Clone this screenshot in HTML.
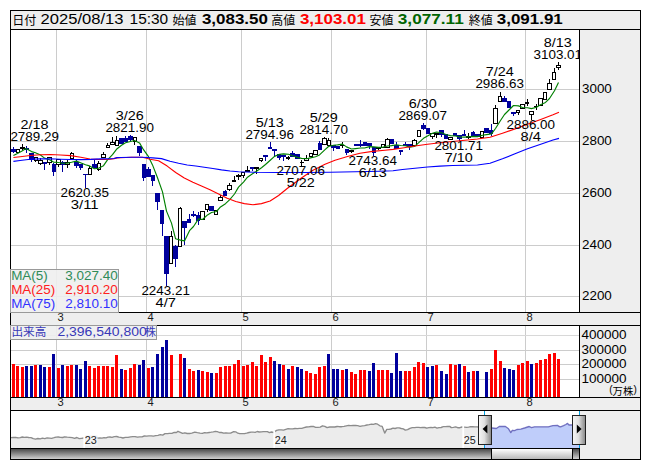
<!DOCTYPE html>
<html><head><meta charset="utf-8"><title>chart</title><style>html,body{margin:0;padding:0;background:#fff}svg{display:block}</style></head><body>
<svg width="653" height="470" viewBox="0 0 653 470" font-family="Liberation Sans, sans-serif">
<rect x="0" y="0" width="653" height="470" fill="#fff"/>
<g shape-rendering="crispEdges">
<rect x="10" y="10" width="631" height="450" fill="#000"/>
<rect x="11" y="11" width="629" height="448" fill="#eeeeee"/>
<rect x="10" y="29" width="631" height="1" fill="#000"/>
<rect x="11" y="30" width="568" height="282" fill="#fff"/>
<rect x="579" y="29" width="1" height="284" fill="#000"/>
<rect x="10" y="312" width="631" height="1" fill="#000"/>
<rect x="10" y="325" width="631" height="1" fill="#000"/>
<rect x="11" y="326" width="568" height="71" fill="#fff"/>
<rect x="579" y="325" width="1" height="73" fill="#000"/>
<rect x="10" y="397" width="631" height="1" fill="#000"/>
<rect x="10" y="410" width="631" height="1" fill="#000"/>
<rect x="11" y="411" width="568" height="37" fill="#fff"/>
<rect x="10" y="448" width="570" height="1" fill="#000"/>
<rect x="56" y="30" width="1" height="282" fill="#cccccc"/>
<rect x="56" y="326" width="1" height="71" fill="#cccccc"/>
<rect x="146" y="30" width="1" height="282" fill="#cccccc"/>
<rect x="146" y="326" width="1" height="71" fill="#cccccc"/>
<rect x="241" y="30" width="1" height="282" fill="#cccccc"/>
<rect x="241" y="326" width="1" height="71" fill="#cccccc"/>
<rect x="331" y="30" width="1" height="282" fill="#cccccc"/>
<rect x="331" y="326" width="1" height="71" fill="#cccccc"/>
<rect x="426" y="30" width="1" height="282" fill="#cccccc"/>
<rect x="426" y="326" width="1" height="71" fill="#cccccc"/>
<rect x="525" y="30" width="1" height="282" fill="#cccccc"/>
<rect x="525" y="326" width="1" height="71" fill="#cccccc"/>
<rect x="11" y="89" width="568" height="1" fill="#cccccc"/>
<rect x="11" y="141" width="568" height="1" fill="#cccccc"/>
<rect x="11" y="193" width="568" height="1" fill="#cccccc"/>
<rect x="11" y="245" width="568" height="1" fill="#cccccc"/>
<rect x="11" y="296" width="568" height="1" fill="#cccccc"/>
<rect x="11" y="335" width="568" height="1" fill="#d8d8d8"/>
<rect x="11" y="350" width="568" height="1" fill="#cccccc"/>
<rect x="11" y="364" width="568" height="1" fill="#cccccc"/>
<rect x="11" y="379" width="568" height="1" fill="#cccccc"/>
</g>
<text x="582" y="93" font-size="12" fill="#000" textLength="29.8" lengthAdjust="spacingAndGlyphs">3000</text>
<text x="582" y="145" font-size="12" fill="#000" textLength="29.8" lengthAdjust="spacingAndGlyphs">2800</text>
<text x="582" y="197" font-size="12" fill="#000" textLength="29.8" lengthAdjust="spacingAndGlyphs">2600</text>
<text x="582" y="249" font-size="12" fill="#000" textLength="29.8" lengthAdjust="spacingAndGlyphs">2400</text>
<text x="582" y="300" font-size="12" fill="#000" textLength="29.8" lengthAdjust="spacingAndGlyphs">2200</text>
<text x="581.5" y="339" font-size="12" fill="#000" textLength="45" lengthAdjust="spacingAndGlyphs">400000</text>
<text x="581.5" y="353.5" font-size="12" fill="#000" textLength="45" lengthAdjust="spacingAndGlyphs">300000</text>
<text x="581.5" y="368" font-size="12" fill="#000" textLength="45" lengthAdjust="spacingAndGlyphs">200000</text>
<text x="581.5" y="382.5" font-size="12" fill="#000" textLength="45" lengthAdjust="spacingAndGlyphs">100000</text>
<text x="609.2" y="393.3" font-size="10" fill="#000">(</text>
<text x="612.6" y="394.6" font-size="10.5" fill="#000" textLength="20.7" lengthAdjust="spacingAndGlyphs" style="font-family:'Liberation Sans','Noto Sans CJK JP',sans-serif">万株</text>
<text x="633.6" y="393.3" font-size="10" fill="#000">)</text>
<text x="57.5" y="321.4" font-size="10" fill="#1a1a1a" textLength="6.2" lengthAdjust="spacingAndGlyphs">3</text>
<text x="57.5" y="406.4" font-size="10" fill="#1a1a1a" textLength="6.2" lengthAdjust="spacingAndGlyphs">3</text>
<text x="147.5" y="321.4" font-size="10" fill="#1a1a1a" textLength="6.2" lengthAdjust="spacingAndGlyphs">4</text>
<text x="147.5" y="406.4" font-size="10" fill="#1a1a1a" textLength="6.2" lengthAdjust="spacingAndGlyphs">4</text>
<text x="242.5" y="321.4" font-size="10" fill="#1a1a1a" textLength="6.2" lengthAdjust="spacingAndGlyphs">5</text>
<text x="242.5" y="406.4" font-size="10" fill="#1a1a1a" textLength="6.2" lengthAdjust="spacingAndGlyphs">5</text>
<text x="332.5" y="321.4" font-size="10" fill="#1a1a1a" textLength="6.2" lengthAdjust="spacingAndGlyphs">6</text>
<text x="332.5" y="406.4" font-size="10" fill="#1a1a1a" textLength="6.2" lengthAdjust="spacingAndGlyphs">6</text>
<text x="427.5" y="321.4" font-size="10" fill="#1a1a1a" textLength="6.2" lengthAdjust="spacingAndGlyphs">7</text>
<text x="427.5" y="406.4" font-size="10" fill="#1a1a1a" textLength="6.2" lengthAdjust="spacingAndGlyphs">7</text>
<text x="526.5" y="321.4" font-size="10" fill="#1a1a1a" textLength="6.2" lengthAdjust="spacingAndGlyphs">8</text>
<text x="526.5" y="406.4" font-size="10" fill="#1a1a1a" textLength="6.2" lengthAdjust="spacingAndGlyphs">8</text>
<g shape-rendering="crispEdges">
<rect x="12" y="364" width="3" height="33" fill="#ff0000"/>
<rect x="16" y="366" width="3" height="31" fill="#ff0000"/>
<rect x="21" y="367" width="3" height="30" fill="#ff0000"/>
<rect x="25" y="366" width="3" height="31" fill="#00009c"/>
<rect x="30" y="366" width="3" height="31" fill="#00009c"/>
<rect x="34" y="365" width="3" height="32" fill="#ff0000"/>
<rect x="39" y="365" width="3" height="32" fill="#00009c"/>
<rect x="43" y="367" width="3" height="30" fill="#00009c"/>
<rect x="48" y="367" width="3" height="30" fill="#ff0000"/>
<rect x="52" y="354" width="3" height="43" fill="#00009c"/>
<rect x="57" y="368" width="3" height="29" fill="#ff0000"/>
<rect x="61" y="365" width="3" height="32" fill="#00009c"/>
<rect x="66" y="366" width="3" height="31" fill="#ff0000"/>
<rect x="70" y="365" width="3" height="32" fill="#ff0000"/>
<rect x="75" y="365" width="3" height="32" fill="#00009c"/>
<rect x="79" y="369" width="3" height="28" fill="#00009c"/>
<rect x="84" y="361" width="3" height="36" fill="#00009c"/>
<rect x="88" y="366" width="3" height="31" fill="#ff0000"/>
<rect x="93" y="368" width="3" height="29" fill="#ff0000"/>
<rect x="97" y="366" width="3" height="31" fill="#ff0000"/>
<rect x="102" y="366" width="3" height="31" fill="#ff0000"/>
<rect x="106" y="366" width="3" height="31" fill="#ff0000"/>
<rect x="111" y="367" width="3" height="30" fill="#ff0000"/>
<rect x="115" y="355" width="3" height="42" fill="#ff0000"/>
<rect x="120" y="369" width="3" height="28" fill="#00009c"/>
<rect x="124" y="370" width="3" height="27" fill="#ff0000"/>
<rect x="129" y="368" width="3" height="29" fill="#ff0000"/>
<rect x="133" y="364" width="3" height="33" fill="#ff0000"/>
<rect x="138" y="365" width="3" height="32" fill="#00009c"/>
<rect x="142" y="360" width="3" height="37" fill="#00009c"/>
<rect x="147" y="368" width="3" height="29" fill="#ff0000"/>
<rect x="151" y="367" width="3" height="30" fill="#00009c"/>
<rect x="156" y="354" width="3" height="43" fill="#00009c"/>
<rect x="161" y="347" width="3" height="50" fill="#00009c"/>
<rect x="165" y="340" width="3" height="57" fill="#00009c"/>
<rect x="170" y="355" width="3" height="42" fill="#ff0000"/>
<rect x="179" y="354" width="3" height="43" fill="#ff0000"/>
<rect x="183" y="358" width="3" height="39" fill="#00009c"/>
<rect x="188" y="369" width="3" height="28" fill="#ff0000"/>
<rect x="192" y="371" width="3" height="26" fill="#ff0000"/>
<rect x="197" y="370" width="3" height="27" fill="#00009c"/>
<rect x="201" y="371" width="3" height="26" fill="#ff0000"/>
<rect x="206" y="372" width="3" height="25" fill="#ff0000"/>
<rect x="210" y="373" width="3" height="24" fill="#00009c"/>
<rect x="215" y="373" width="3" height="24" fill="#ff0000"/>
<rect x="219" y="367" width="3" height="30" fill="#ff0000"/>
<rect x="224" y="366" width="3" height="31" fill="#ff0000"/>
<rect x="228" y="366" width="3" height="31" fill="#ff0000"/>
<rect x="233" y="364" width="3" height="33" fill="#ff0000"/>
<rect x="237" y="360" width="3" height="37" fill="#ff0000"/>
<rect x="242" y="366" width="3" height="31" fill="#ff0000"/>
<rect x="246" y="365" width="3" height="32" fill="#ff0000"/>
<rect x="251" y="362" width="3" height="35" fill="#ff0000"/>
<rect x="255" y="366" width="3" height="31" fill="#ff0000"/>
<rect x="260" y="355" width="3" height="42" fill="#ff0000"/>
<rect x="264" y="362" width="3" height="35" fill="#ff0000"/>
<rect x="269" y="357" width="3" height="40" fill="#ff0000"/>
<rect x="273" y="361" width="3" height="36" fill="#00009c"/>
<rect x="278" y="364" width="3" height="33" fill="#00009c"/>
<rect x="282" y="365" width="3" height="32" fill="#ff0000"/>
<rect x="287" y="369" width="3" height="28" fill="#00009c"/>
<rect x="291" y="366" width="3" height="31" fill="#ff0000"/>
<rect x="296" y="367" width="3" height="30" fill="#00009c"/>
<rect x="300" y="369" width="3" height="28" fill="#00009c"/>
<rect x="305" y="371" width="3" height="26" fill="#ff0000"/>
<rect x="309" y="373" width="3" height="24" fill="#ff0000"/>
<rect x="314" y="374" width="3" height="23" fill="#ff0000"/>
<rect x="318" y="367" width="3" height="30" fill="#ff0000"/>
<rect x="323" y="366" width="3" height="31" fill="#ff0000"/>
<rect x="327" y="354" width="3" height="43" fill="#00009c"/>
<rect x="332" y="369" width="3" height="28" fill="#00009c"/>
<rect x="336" y="369" width="3" height="28" fill="#00009c"/>
<rect x="341" y="370" width="3" height="27" fill="#ff0000"/>
<rect x="345" y="369" width="3" height="28" fill="#00009c"/>
<rect x="350" y="372" width="3" height="25" fill="#ff0000"/>
<rect x="354" y="374" width="3" height="23" fill="#ff0000"/>
<rect x="359" y="370" width="3" height="27" fill="#ff0000"/>
<rect x="363" y="370" width="3" height="27" fill="#ff0000"/>
<rect x="368" y="371" width="3" height="26" fill="#00009c"/>
<rect x="372" y="363" width="3" height="34" fill="#00009c"/>
<rect x="377" y="370" width="3" height="27" fill="#ff0000"/>
<rect x="381" y="370" width="3" height="27" fill="#ff0000"/>
<rect x="386" y="370" width="3" height="27" fill="#ff0000"/>
<rect x="390" y="373" width="3" height="24" fill="#00009c"/>
<rect x="395" y="353" width="3" height="44" fill="#00009c"/>
<rect x="399" y="371" width="3" height="26" fill="#00009c"/>
<rect x="404" y="371" width="3" height="26" fill="#ff0000"/>
<rect x="408" y="371" width="3" height="26" fill="#ff0000"/>
<rect x="413" y="367" width="3" height="30" fill="#ff0000"/>
<rect x="417" y="362" width="3" height="35" fill="#ff0000"/>
<rect x="422" y="363" width="3" height="34" fill="#ff0000"/>
<rect x="426" y="367" width="3" height="30" fill="#00009c"/>
<rect x="431" y="366" width="3" height="31" fill="#00009c"/>
<rect x="435" y="365" width="3" height="32" fill="#ff0000"/>
<rect x="440" y="371" width="3" height="26" fill="#00009c"/>
<rect x="445" y="374" width="3" height="23" fill="#00009c"/>
<rect x="449" y="364" width="3" height="33" fill="#ff0000"/>
<rect x="454" y="365" width="3" height="32" fill="#ff0000"/>
<rect x="458" y="364" width="3" height="33" fill="#00009c"/>
<rect x="463" y="366" width="3" height="31" fill="#ff0000"/>
<rect x="467" y="372" width="3" height="25" fill="#00009c"/>
<rect x="472" y="371" width="3" height="26" fill="#ff0000"/>
<rect x="476" y="371" width="3" height="26" fill="#00009c"/>
<rect x="485" y="372" width="3" height="25" fill="#00009c"/>
<rect x="490" y="369" width="3" height="28" fill="#ff0000"/>
<rect x="494" y="350" width="3" height="47" fill="#ff0000"/>
<rect x="499" y="361" width="3" height="36" fill="#ff0000"/>
<rect x="503" y="368" width="3" height="29" fill="#00009c"/>
<rect x="508" y="369" width="3" height="28" fill="#00009c"/>
<rect x="512" y="370" width="3" height="27" fill="#00009c"/>
<rect x="517" y="365" width="3" height="32" fill="#ff0000"/>
<rect x="521" y="363" width="3" height="34" fill="#ff0000"/>
<rect x="526" y="361" width="3" height="36" fill="#ff0000"/>
<rect x="530" y="364" width="3" height="33" fill="#00009c"/>
<rect x="535" y="363" width="3" height="34" fill="#ff0000"/>
<rect x="539" y="360" width="3" height="37" fill="#ff0000"/>
<rect x="544" y="359" width="3" height="38" fill="#ff0000"/>
<rect x="548" y="354" width="3" height="43" fill="#ff0000"/>
<rect x="553" y="353" width="3" height="44" fill="#ff0000"/>
<rect x="557" y="359" width="3" height="38" fill="#ff0000"/>
<rect x="13" y="147" width="1" height="6" fill="#00009c"/>
<rect x="11" y="149" width="5" height="3" fill="#00009c"/>
<rect x="17" y="149" width="1" height="4" fill="#000"/>
<rect x="16" y="149" width="4" height="4" fill="#000"/>
<rect x="17" y="150" width="2" height="2" fill="#fff"/>
<rect x="22" y="144" width="1" height="6" fill="#000"/>
<rect x="20" y="147" width="5" height="2" fill="#000"/>
<rect x="26" y="146" width="1" height="7" fill="#00009c"/>
<rect x="25" y="148" width="4" height="2" fill="#00009c"/>
<rect x="31" y="153" width="1" height="9" fill="#00009c"/>
<rect x="29" y="153" width="5" height="7" fill="#00009c"/>
<rect x="35" y="157" width="1" height="5" fill="#000"/>
<rect x="34" y="157" width="4" height="4" fill="#000"/>
<rect x="35" y="158" width="2" height="2" fill="#fff"/>
<rect x="40" y="158" width="1" height="7" fill="#000"/>
<rect x="38" y="160" width="5" height="4" fill="#000"/>
<rect x="39" y="161" width="3" height="2" fill="#fff"/>
<rect x="44" y="162" width="1" height="8" fill="#00009c"/>
<rect x="43" y="162" width="4" height="2" fill="#00009c"/>
<rect x="49" y="157" width="1" height="8" fill="#000"/>
<rect x="47" y="157" width="5" height="6" fill="#000"/>
<rect x="48" y="158" width="3" height="4" fill="#fff"/>
<rect x="53" y="163" width="1" height="13" fill="#00009c"/>
<rect x="52" y="164" width="4" height="8" fill="#00009c"/>
<rect x="58" y="159" width="1" height="8" fill="#000"/>
<rect x="56" y="159" width="5" height="6" fill="#000"/>
<rect x="57" y="160" width="3" height="4" fill="#fff"/>
<rect x="62" y="161" width="1" height="11" fill="#00009c"/>
<rect x="61" y="162" width="4" height="3" fill="#00009c"/>
<rect x="67" y="160" width="1" height="8" fill="#000"/>
<rect x="65" y="162" width="5" height="3" fill="#000"/>
<rect x="66" y="163" width="3" height="1" fill="#fff"/>
<rect x="71" y="152" width="1" height="7" fill="#000"/>
<rect x="70" y="153" width="4" height="6" fill="#000"/>
<rect x="71" y="154" width="2" height="4" fill="#fff"/>
<rect x="76" y="160" width="1" height="8" fill="#00009c"/>
<rect x="74" y="162" width="5" height="4" fill="#00009c"/>
<rect x="80" y="164" width="1" height="6" fill="#00009c"/>
<rect x="79" y="164" width="4" height="4" fill="#00009c"/>
<rect x="85" y="174" width="1" height="14" fill="#00009c"/>
<rect x="83" y="174" width="5" height="1" fill="#00009c"/>
<rect x="89" y="166" width="1" height="9" fill="#000"/>
<rect x="88" y="168" width="4" height="7" fill="#000"/>
<rect x="89" y="169" width="2" height="5" fill="#fff"/>
<rect x="94" y="160" width="1" height="8" fill="#00009c"/>
<rect x="92" y="164" width="5" height="4" fill="#00009c"/>
<rect x="98" y="161" width="1" height="10" fill="#000"/>
<rect x="97" y="163" width="4" height="7" fill="#000"/>
<rect x="98" y="164" width="2" height="5" fill="#fff"/>
<rect x="103" y="152" width="1" height="6" fill="#000"/>
<rect x="101" y="154" width="5" height="4" fill="#000"/>
<rect x="102" y="155" width="3" height="2" fill="#fff"/>
<rect x="107" y="143" width="1" height="5" fill="#000"/>
<rect x="106" y="145" width="4" height="3" fill="#000"/>
<rect x="107" y="146" width="2" height="1" fill="#fff"/>
<rect x="112" y="137" width="1" height="8" fill="#000"/>
<rect x="110" y="142" width="5" height="3" fill="#000"/>
<rect x="111" y="143" width="3" height="1" fill="#fff"/>
<rect x="116" y="136" width="1" height="10" fill="#000"/>
<rect x="115" y="140" width="4" height="6" fill="#000"/>
<rect x="116" y="141" width="2" height="4" fill="#fff"/>
<rect x="121" y="138" width="1" height="6" fill="#00009c"/>
<rect x="119" y="138" width="5" height="6" fill="#00009c"/>
<rect x="125" y="136" width="1" height="6" fill="#00009c"/>
<rect x="124" y="138" width="4" height="4" fill="#00009c"/>
<rect x="130" y="135" width="1" height="7" fill="#00009c"/>
<rect x="128" y="136" width="5" height="4" fill="#00009c"/>
<rect x="134" y="137" width="1" height="8" fill="#000"/>
<rect x="133" y="137" width="4" height="5" fill="#000"/>
<rect x="134" y="138" width="2" height="3" fill="#fff"/>
<rect x="139" y="146" width="1" height="10" fill="#00009c"/>
<rect x="137" y="146" width="5" height="7" fill="#00009c"/>
<rect x="143" y="164" width="1" height="17" fill="#00009c"/>
<rect x="142" y="164" width="4" height="14" fill="#00009c"/>
<rect x="148" y="167" width="1" height="10" fill="#00009c"/>
<rect x="146" y="169" width="5" height="8" fill="#00009c"/>
<rect x="152" y="175" width="1" height="11" fill="#00009c"/>
<rect x="151" y="175" width="4" height="6" fill="#00009c"/>
<rect x="157" y="193" width="1" height="17" fill="#00009c"/>
<rect x="155" y="193" width="5" height="9" fill="#00009c"/>
<rect x="162" y="210" width="1" height="26" fill="#00009c"/>
<rect x="160" y="210" width="4" height="14" fill="#00009c"/>
<rect x="166" y="236" width="1" height="50" fill="#00009c"/>
<rect x="164" y="236" width="5" height="38" fill="#00009c"/>
<rect x="171" y="231" width="1" height="33" fill="#000"/>
<rect x="169" y="236" width="4" height="28" fill="#000"/>
<rect x="170" y="237" width="2" height="26" fill="#fff"/>
<rect x="175" y="245" width="1" height="22" fill="#00009c"/>
<rect x="173" y="246" width="5" height="13" fill="#00009c"/>
<rect x="180" y="207" width="1" height="40" fill="#000"/>
<rect x="178" y="208" width="4" height="39" fill="#000"/>
<rect x="179" y="209" width="2" height="37" fill="#fff"/>
<rect x="184" y="221" width="1" height="24" fill="#00009c"/>
<rect x="182" y="221" width="5" height="7" fill="#00009c"/>
<rect x="189" y="214" width="1" height="9" fill="#00009c"/>
<rect x="187" y="219" width="4" height="4" fill="#00009c"/>
<rect x="193" y="211" width="1" height="6" fill="#00009c"/>
<rect x="191" y="214" width="5" height="2" fill="#00009c"/>
<rect x="198" y="212" width="1" height="13" fill="#00009c"/>
<rect x="196" y="215" width="4" height="6" fill="#00009c"/>
<rect x="202" y="211" width="1" height="9" fill="#000"/>
<rect x="200" y="211" width="5" height="9" fill="#000"/>
<rect x="201" y="212" width="3" height="7" fill="#fff"/>
<rect x="207" y="204" width="1" height="8" fill="#000"/>
<rect x="205" y="204" width="4" height="6" fill="#000"/>
<rect x="206" y="205" width="2" height="4" fill="#fff"/>
<rect x="211" y="206" width="1" height="5" fill="#00009c"/>
<rect x="209" y="206" width="5" height="5" fill="#00009c"/>
<rect x="216" y="210" width="1" height="5" fill="#000"/>
<rect x="214" y="210" width="4" height="5" fill="#000"/>
<rect x="215" y="211" width="2" height="3" fill="#fff"/>
<rect x="220" y="195" width="1" height="6" fill="#000"/>
<rect x="218" y="197" width="5" height="4" fill="#000"/>
<rect x="219" y="198" width="3" height="2" fill="#fff"/>
<rect x="225" y="190" width="1" height="6" fill="#00009c"/>
<rect x="223" y="191" width="4" height="5" fill="#00009c"/>
<rect x="229" y="183" width="1" height="8" fill="#000"/>
<rect x="227" y="185" width="5" height="5" fill="#000"/>
<rect x="228" y="186" width="3" height="3" fill="#fff"/>
<rect x="234" y="176" width="1" height="6" fill="#000"/>
<rect x="232" y="180" width="4" height="2" fill="#000"/>
<rect x="238" y="174" width="1" height="6" fill="#000"/>
<rect x="236" y="175" width="5" height="2" fill="#000"/>
<rect x="243" y="172" width="1" height="6" fill="#000"/>
<rect x="241" y="172" width="4" height="4" fill="#000"/>
<rect x="242" y="173" width="2" height="2" fill="#fff"/>
<rect x="247" y="166" width="1" height="6" fill="#000"/>
<rect x="245" y="170" width="5" height="2" fill="#000"/>
<rect x="252" y="167" width="1" height="4" fill="#00009c"/>
<rect x="250" y="167" width="4" height="2" fill="#00009c"/>
<rect x="256" y="167" width="1" height="7" fill="#000"/>
<rect x="254" y="167" width="5" height="2" fill="#000"/>
<rect x="261" y="158" width="1" height="4" fill="#000"/>
<rect x="259" y="158" width="4" height="3" fill="#000"/>
<rect x="260" y="159" width="2" height="1" fill="#fff"/>
<rect x="265" y="155" width="1" height="6" fill="#00009c"/>
<rect x="263" y="155" width="5" height="2" fill="#00009c"/>
<rect x="270" y="142" width="1" height="7" fill="#00009c"/>
<rect x="268" y="147" width="4" height="2" fill="#00009c"/>
<rect x="274" y="149" width="1" height="7" fill="#00009c"/>
<rect x="272" y="149" width="5" height="2" fill="#00009c"/>
<rect x="279" y="154" width="1" height="6" fill="#00009c"/>
<rect x="277" y="154" width="4" height="4" fill="#00009c"/>
<rect x="283" y="155" width="1" height="6" fill="#00009c"/>
<rect x="281" y="155" width="5" height="2" fill="#00009c"/>
<rect x="288" y="156" width="1" height="4" fill="#000"/>
<rect x="286" y="157" width="4" height="2" fill="#000"/>
<rect x="292" y="151" width="1" height="6" fill="#00009c"/>
<rect x="290" y="153" width="5" height="4" fill="#00009c"/>
<rect x="297" y="154" width="1" height="5" fill="#00009c"/>
<rect x="295" y="154" width="5" height="5" fill="#00009c"/>
<rect x="301" y="160" width="1" height="6" fill="#000"/>
<rect x="300" y="162" width="4" height="1" fill="#000"/>
<rect x="306" y="155" width="1" height="6" fill="#000"/>
<rect x="304" y="158" width="5" height="3" fill="#000"/>
<rect x="305" y="159" width="3" height="1" fill="#fff"/>
<rect x="310" y="153" width="1" height="4" fill="#000"/>
<rect x="309" y="153" width="4" height="4" fill="#000"/>
<rect x="310" y="154" width="2" height="2" fill="#fff"/>
<rect x="315" y="150" width="1" height="5" fill="#000"/>
<rect x="313" y="150" width="5" height="5" fill="#000"/>
<rect x="314" y="151" width="3" height="3" fill="#fff"/>
<rect x="319" y="141" width="1" height="9" fill="#00009c"/>
<rect x="318" y="143" width="4" height="7" fill="#00009c"/>
<rect x="324" y="137" width="1" height="8" fill="#000"/>
<rect x="322" y="138" width="5" height="7" fill="#000"/>
<rect x="323" y="139" width="3" height="5" fill="#fff"/>
<rect x="328" y="138" width="1" height="8" fill="#000"/>
<rect x="327" y="140" width="4" height="6" fill="#000"/>
<rect x="328" y="141" width="2" height="4" fill="#fff"/>
<rect x="333" y="145" width="1" height="6" fill="#00009c"/>
<rect x="331" y="145" width="5" height="3" fill="#00009c"/>
<rect x="337" y="146" width="1" height="3" fill="#00009c"/>
<rect x="336" y="146" width="4" height="3" fill="#00009c"/>
<rect x="342" y="142" width="1" height="6" fill="#000"/>
<rect x="340" y="145" width="5" height="1" fill="#000"/>
<rect x="346" y="149" width="1" height="6" fill="#00009c"/>
<rect x="345" y="149" width="4" height="4" fill="#00009c"/>
<rect x="351" y="150" width="1" height="3" fill="#000"/>
<rect x="349" y="150" width="5" height="2" fill="#000"/>
<rect x="355" y="144" width="1" height="2" fill="#00009c"/>
<rect x="354" y="144" width="4" height="2" fill="#00009c"/>
<rect x="360" y="140" width="1" height="7" fill="#00009c"/>
<rect x="358" y="144" width="5" height="2" fill="#00009c"/>
<rect x="364" y="142" width="1" height="4" fill="#00009c"/>
<rect x="363" y="142" width="4" height="4" fill="#00009c"/>
<rect x="369" y="143" width="1" height="6" fill="#00009c"/>
<rect x="367" y="143" width="5" height="3" fill="#00009c"/>
<rect x="373" y="147" width="1" height="9" fill="#00009c"/>
<rect x="372" y="147" width="4" height="6" fill="#00009c"/>
<rect x="378" y="147" width="1" height="3" fill="#000"/>
<rect x="376" y="147" width="5" height="2" fill="#000"/>
<rect x="382" y="144" width="1" height="4" fill="#000"/>
<rect x="381" y="144" width="4" height="4" fill="#000"/>
<rect x="382" y="145" width="2" height="2" fill="#fff"/>
<rect x="387" y="138" width="1" height="10" fill="#000"/>
<rect x="385" y="139" width="5" height="9" fill="#000"/>
<rect x="386" y="140" width="3" height="7" fill="#fff"/>
<rect x="391" y="139" width="1" height="5" fill="#00009c"/>
<rect x="390" y="139" width="4" height="5" fill="#00009c"/>
<rect x="396" y="142" width="1" height="7" fill="#00009c"/>
<rect x="394" y="145" width="5" height="4" fill="#00009c"/>
<rect x="400" y="150" width="1" height="5" fill="#00009c"/>
<rect x="399" y="150" width="4" height="2" fill="#00009c"/>
<rect x="405" y="142" width="1" height="4" fill="#00009c"/>
<rect x="403" y="144" width="5" height="2" fill="#00009c"/>
<rect x="409" y="144" width="1" height="6" fill="#00009c"/>
<rect x="408" y="144" width="4" height="3" fill="#00009c"/>
<rect x="414" y="139" width="1" height="7" fill="#000"/>
<rect x="412" y="140" width="5" height="6" fill="#000"/>
<rect x="413" y="141" width="3" height="4" fill="#fff"/>
<rect x="418" y="130" width="1" height="7" fill="#000"/>
<rect x="417" y="130" width="4" height="7" fill="#000"/>
<rect x="418" y="131" width="2" height="5" fill="#fff"/>
<rect x="423" y="123" width="1" height="7" fill="#00009c"/>
<rect x="421" y="125" width="5" height="4" fill="#00009c"/>
<rect x="427" y="128" width="1" height="6" fill="#00009c"/>
<rect x="426" y="128" width="4" height="6" fill="#00009c"/>
<rect x="432" y="133" width="1" height="6" fill="#000"/>
<rect x="430" y="133" width="5" height="4" fill="#000"/>
<rect x="431" y="134" width="3" height="2" fill="#fff"/>
<rect x="436" y="133" width="1" height="5" fill="#000"/>
<rect x="435" y="133" width="4" height="2" fill="#000"/>
<rect x="441" y="130" width="1" height="7" fill="#00009c"/>
<rect x="439" y="130" width="5" height="5" fill="#00009c"/>
<rect x="446" y="134" width="1" height="5" fill="#00009c"/>
<rect x="444" y="134" width="4" height="5" fill="#00009c"/>
<rect x="450" y="137" width="1" height="3" fill="#000"/>
<rect x="448" y="137" width="5" height="3" fill="#000"/>
<rect x="449" y="138" width="3" height="1" fill="#fff"/>
<rect x="455" y="133" width="1" height="3" fill="#00009c"/>
<rect x="453" y="133" width="4" height="3" fill="#00009c"/>
<rect x="459" y="135" width="1" height="6" fill="#00009c"/>
<rect x="457" y="135" width="5" height="4" fill="#00009c"/>
<rect x="464" y="130" width="1" height="6" fill="#00009c"/>
<rect x="462" y="134" width="4" height="2" fill="#00009c"/>
<rect x="468" y="133" width="1" height="6" fill="#000"/>
<rect x="466" y="136" width="5" height="2" fill="#000"/>
<rect x="473" y="131" width="1" height="5" fill="#00009c"/>
<rect x="471" y="132" width="4" height="4" fill="#00009c"/>
<rect x="477" y="134" width="1" height="3" fill="#00009c"/>
<rect x="475" y="134" width="5" height="3" fill="#00009c"/>
<rect x="482" y="131" width="1" height="7" fill="#000"/>
<rect x="480" y="131" width="4" height="7" fill="#000"/>
<rect x="481" y="132" width="2" height="5" fill="#fff"/>
<rect x="486" y="128" width="1" height="5" fill="#00009c"/>
<rect x="484" y="128" width="5" height="5" fill="#00009c"/>
<rect x="491" y="124" width="1" height="12" fill="#00009c"/>
<rect x="489" y="130" width="4" height="4" fill="#00009c"/>
<rect x="495" y="105" width="1" height="19" fill="#000"/>
<rect x="493" y="108" width="5" height="16" fill="#000"/>
<rect x="494" y="109" width="3" height="14" fill="#fff"/>
<rect x="500" y="92" width="1" height="10" fill="#000"/>
<rect x="498" y="96" width="4" height="6" fill="#000"/>
<rect x="499" y="97" width="2" height="4" fill="#fff"/>
<rect x="504" y="96" width="1" height="6" fill="#00009c"/>
<rect x="502" y="98" width="5" height="4" fill="#00009c"/>
<rect x="509" y="101" width="1" height="7" fill="#00009c"/>
<rect x="507" y="101" width="4" height="7" fill="#00009c"/>
<rect x="513" y="112" width="1" height="4" fill="#00009c"/>
<rect x="511" y="112" width="5" height="2" fill="#00009c"/>
<rect x="518" y="110" width="1" height="5" fill="#000"/>
<rect x="516" y="110" width="4" height="3" fill="#000"/>
<rect x="517" y="111" width="2" height="1" fill="#fff"/>
<rect x="522" y="104" width="1" height="5" fill="#000"/>
<rect x="520" y="104" width="5" height="5" fill="#000"/>
<rect x="521" y="105" width="3" height="3" fill="#fff"/>
<rect x="527" y="99" width="1" height="7" fill="#000"/>
<rect x="525" y="102" width="4" height="2" fill="#000"/>
<rect x="531" y="111" width="1" height="9" fill="#000"/>
<rect x="529" y="111" width="5" height="4" fill="#000"/>
<rect x="530" y="112" width="3" height="2" fill="#fff"/>
<rect x="536" y="104" width="1" height="6" fill="#000"/>
<rect x="534" y="106" width="4" height="1" fill="#000"/>
<rect x="540" y="98" width="1" height="8" fill="#000"/>
<rect x="538" y="98" width="5" height="8" fill="#000"/>
<rect x="539" y="99" width="3" height="6" fill="#fff"/>
<rect x="545" y="92" width="1" height="8" fill="#000"/>
<rect x="543" y="92" width="4" height="8" fill="#000"/>
<rect x="544" y="93" width="2" height="6" fill="#fff"/>
<rect x="549" y="79" width="1" height="11" fill="#000"/>
<rect x="547" y="83" width="5" height="7" fill="#000"/>
<rect x="548" y="84" width="3" height="5" fill="#fff"/>
<rect x="554" y="68" width="1" height="12" fill="#000"/>
<rect x="552" y="72" width="4" height="8" fill="#000"/>
<rect x="553" y="73" width="2" height="6" fill="#fff"/>
<rect x="558" y="62" width="1" height="8" fill="#000"/>
<rect x="556" y="65" width="5" height="3" fill="#000"/>
<rect x="557" y="66" width="3" height="1" fill="#fff"/>
</g>
<polyline fill="none" stroke="#008000" stroke-width="1.15" stroke-linejoin="round" points="13.4,155.6 17.5,153.5 22.0,151.0 26.0,148.6 31.5,151.6 35.5,152.8 40.5,155.0 44.5,158.1 49.5,159.7 53.5,162.1 58.5,162.5 62.5,163.3 67.5,163.1 71.5,162.3 76.5,161.1 80.5,162.7 85.5,164.7 89.5,165.9 94.5,168.7 98.5,168.3 103.5,165.7 107.5,159.9 112.5,154.7 116.5,149.3 121.5,145.3 125.5,142.7 130.5,141.5 134.5,140.5 139.5,142.9 143.5,149.7 148.5,156.7 152.5,164.9 157.5,177.7 162.5,191.9 166.5,211.1 171.5,223.1 175.5,238.7 180.5,240.1 184.5,240.9 189.5,230.7 193.5,226.5 198.5,218.9 202.5,219.5 207.5,214.9 211.5,212.5 216.5,211.5 220.5,206.9 225.5,203.7 229.5,199.9 234.5,194.0 238.5,187.1 243.5,182.1 247.5,177.2 252.5,173.8 256.5,171.2 261.5,167.7 265.5,164.5 270.5,160.0 274.5,156.4 279.5,154.3 283.5,153.9 288.5,154.2 292.5,155.8 297.5,157.4 301.5,158.4 306.5,158.8 310.5,157.9 315.5,156.7 319.5,154.9 324.5,150.1 328.5,146.5 333.5,145.3 337.5,144.9 342.5,144.1 346.5,146.9 351.5,149.0 355.5,148.6 360.5,148.0 364.5,148.0 369.5,146.6 373.5,146.9 378.5,147.4 382.5,147.2 387.5,146.0 391.5,145.6 396.5,144.8 400.5,145.5 405.5,145.7 409.5,147.1 414.5,146.5 418.5,142.9 423.5,138.3 427.5,135.9 432.5,133.3 436.5,132.0 441.5,132.8 446.5,134.8 450.5,135.6 455.5,136.0 459.5,136.9 464.5,137.1 468.5,136.8 473.5,136.4 477.5,136.6 482.5,135.2 486.5,134.6 491.5,133.9 495.5,128.5 500.5,120.5 504.5,114.5 509.5,109.5 513.5,105.5 518.5,105.9 522.5,107.5 527.5,107.8 531.5,108.6 536.5,107.2 540.5,104.8 545.5,102.4 549.5,98.5 554.5,90.7 558.5,82.5"/>
<polyline fill="none" stroke="#ff0000" stroke-width="1.15" stroke-linejoin="round" points="13.4,157.5 20.1,156.7 30.2,155.5 40.3,154.8 50.4,154.5 60.5,155.0 70.6,155.6 80.8,157.2 86.0,158.3 90.0,159.1 97.6,159.4 104.3,159.5 110.0,159.3 114.0,158.6 117.0,157.9 120.7,157.7 131.4,157.2 142.2,157.3 146.6,158.3 150.0,159.2 158.6,160.7 167.2,166.1 175.7,172.5 184.3,177.9 192.9,182.2 201.5,186.0 210.0,189.7 218.6,194.0 227.2,198.2 235.8,201.5 244.3,203.6 252.9,204.7 261.5,203.6 270.1,201.0 278.6,195.5 287.5,188.3 300.0,179.0 312.5,170.5 325.0,164.2 335.0,160.2 347.5,156.5 360.0,153.3 372.5,151.4 385.0,150.2 393.0,149.4 402.5,148.0 415.0,146.0 427.5,144.3 440.0,142.8 452.5,141.5 465.0,140.2 477.5,139.0 490.0,137.3 502.5,133.2 515.0,128.9 527.5,124.2 540.0,119.7 553.0,114.8 559.0,112.3"/>
<polyline fill="none" stroke="#0000ff" stroke-width="1.15" stroke-linejoin="round" points="13.4,161.4 20.1,160.5 30.2,159.3 40.3,158.9 50.4,158.8 60.5,159.2 70.6,159.5 80.8,159.6 90.9,159.4 101.0,158.9 111.0,158.8 114.0,158.5 117.0,157.6 120.7,157.5 131.4,157.2 142.2,157.2 152.9,157.9 161.5,158.6 170.0,161.2 178.6,163.3 187.2,165.0 195.8,166.0 204.3,167.2 212.9,168.5 221.5,169.9 230.1,171.0 238.6,171.7 255.0,172.3 280.0,172.5 305.0,172.5 330.0,172.2 355.0,171.8 380.0,171.2 393.0,170.8 402.5,169.5 415.0,168.2 427.5,167.0 440.0,166.1 452.5,165.5 465.0,165.2 477.5,165.0 490.0,163.2 502.5,158.8 515.0,153.8 527.5,148.8 540.0,144.5 553.0,140.0 559.0,138.4"/>
<clipPath id="cc"><rect x="11" y="30" width="568" height="282"/></clipPath><g clip-path="url(#cc)">
<text x="10.4" y="141" font-size="12" fill="#000" textLength="48.5" lengthAdjust="spacingAndGlyphs">2789.29</text>
<text x="20.6" y="129" font-size="12" fill="#000" textLength="28.0" lengthAdjust="spacingAndGlyphs">2/18</text>
<text x="105.4" y="132" font-size="12" fill="#000" textLength="48.5" lengthAdjust="spacingAndGlyphs">2821.90</text>
<text x="115.7" y="120" font-size="12" fill="#000" textLength="28.0" lengthAdjust="spacingAndGlyphs">3/26</text>
<text x="60.5" y="197" font-size="12" fill="#000" textLength="48.5" lengthAdjust="spacingAndGlyphs">2620.35</text>
<text x="70.7" y="209" font-size="12" fill="#000" textLength="28.0" lengthAdjust="spacingAndGlyphs">3/11</text>
<text x="141.4" y="295" font-size="12" fill="#000" textLength="48.5" lengthAdjust="spacingAndGlyphs">2243.21</text>
<text x="155.5" y="307" font-size="12" fill="#000" textLength="20.4" lengthAdjust="spacingAndGlyphs">4/7</text>
<text x="245.4" y="139" font-size="12" fill="#000" textLength="48.5" lengthAdjust="spacingAndGlyphs">2794.96</text>
<text x="255.7" y="127" font-size="12" fill="#000" textLength="28.0" lengthAdjust="spacingAndGlyphs">5/13</text>
<text x="299.4" y="134" font-size="12" fill="#000" textLength="48.5" lengthAdjust="spacingAndGlyphs">2814.70</text>
<text x="309.7" y="122" font-size="12" fill="#000" textLength="28.0" lengthAdjust="spacingAndGlyphs">5/29</text>
<text x="276.4" y="175" font-size="12" fill="#000" textLength="48.5" lengthAdjust="spacingAndGlyphs">2707.06</text>
<text x="286.7" y="187" font-size="12" fill="#000" textLength="28.0" lengthAdjust="spacingAndGlyphs">5/22</text>
<text x="348.4" y="165" font-size="12" fill="#000" textLength="48.5" lengthAdjust="spacingAndGlyphs">2743.64</text>
<text x="358.7" y="177" font-size="12" fill="#000" textLength="28.0" lengthAdjust="spacingAndGlyphs">6/13</text>
<text x="398.4" y="120" font-size="12" fill="#000" textLength="48.5" lengthAdjust="spacingAndGlyphs">2869.07</text>
<text x="408.7" y="108" font-size="12" fill="#000" textLength="28.0" lengthAdjust="spacingAndGlyphs">6/30</text>
<text x="434.4" y="150" font-size="12" fill="#000" textLength="48.5" lengthAdjust="spacingAndGlyphs">2801.71</text>
<text x="444.7" y="162" font-size="12" fill="#000" textLength="28.0" lengthAdjust="spacingAndGlyphs">7/10</text>
<text x="475.4" y="88.4" font-size="12" fill="#000" textLength="48.5" lengthAdjust="spacingAndGlyphs">2986.63</text>
<text x="485.7" y="76.4" font-size="12" fill="#000" textLength="28.0" lengthAdjust="spacingAndGlyphs">7/24</text>
<text x="506.5" y="129" font-size="12" fill="#000" textLength="48.5" lengthAdjust="spacingAndGlyphs">2886.00</text>
<text x="520.5" y="141" font-size="12" fill="#000" textLength="20.4" lengthAdjust="spacingAndGlyphs">8/4</text>
<text x="533.5" y="59" font-size="12" fill="#000" textLength="48.5" lengthAdjust="spacingAndGlyphs">3103.01</text>
<text x="543.7" y="47" font-size="12" fill="#000" textLength="28.0" lengthAdjust="spacingAndGlyphs">8/13</text>
</g>
<rect x="10.5" y="269.5" width="108" height="43" fill="#eeeeee" fill-opacity="0.9" stroke="#999" shape-rendering="crispEdges"/>
<text x="11.2" y="280.3" font-size="12" fill="#2e8b57" textLength="36.5" lengthAdjust="spacingAndGlyphs">MA(5)</text>
<text x="65.2" y="280.3" font-size="12" fill="#2e8b57" textLength="52.5" lengthAdjust="spacingAndGlyphs">3,027.40</text>
<text x="11.2" y="294.3" font-size="12" fill="#ff2020" textLength="44" lengthAdjust="spacingAndGlyphs">MA(25)</text>
<text x="65.2" y="294.3" font-size="12" fill="#ff2020" textLength="52.5" lengthAdjust="spacingAndGlyphs">2,910.20</text>
<text x="11.2" y="308.3" font-size="12" fill="#3030ff" textLength="44" lengthAdjust="spacingAndGlyphs">MA(75)</text>
<text x="65.2" y="308.3" font-size="12" fill="#3030ff" textLength="52.5" lengthAdjust="spacingAndGlyphs">2,810.10</text>
<rect x="10.5" y="325.5" width="146" height="14" fill="#eeeeee" fill-opacity="0.9" stroke="#999" shape-rendering="crispEdges"/>
<text x="11.4" y="336.1" font-size="11.5" fill="#3838b8" textLength="34.9" lengthAdjust="spacingAndGlyphs" style="font-family:'Liberation Sans','Noto Sans CJK JP',sans-serif">出来高</text>
<text x="57.4" y="335.6" font-size="12" fill="#3838b8" textLength="89.3" lengthAdjust="spacingAndGlyphs">2,396,540,800</text>
<text x="144.6" y="336.1" font-size="11.5" fill="#3838b8" style="font-family:'Liberation Sans','Noto Sans CJK JP',sans-serif">株</text>
<text x="12.3" y="25" font-size="12" fill="#000" textLength="24.1" lengthAdjust="spacingAndGlyphs" style="font-family:'Liberation Sans','Noto Sans CJK JP',sans-serif">日付</text>
<text x="40.5" y="24" font-size="14.5" fill="#000" textLength="83" lengthAdjust="spacingAndGlyphs">2025/08/13</text>
<text x="129.6" y="24" font-size="14.5" fill="#000" textLength="38.6" lengthAdjust="spacingAndGlyphs">15:30</text>
<text x="172.5" y="25" font-size="12" fill="#000" textLength="24" lengthAdjust="spacingAndGlyphs" style="font-family:'Liberation Sans','Noto Sans CJK JP',sans-serif">始値</text>
<text x="201.9" y="24" font-size="14.5" fill="#000" textLength="66" lengthAdjust="spacingAndGlyphs" font-weight="bold">3,083.50</text>
<text x="271.3" y="25" font-size="12" fill="#000" textLength="24" lengthAdjust="spacingAndGlyphs" style="font-family:'Liberation Sans','Noto Sans CJK JP',sans-serif">高値</text>
<text x="299.9" y="24" font-size="14.5" fill="#ff0000" textLength="66" lengthAdjust="spacingAndGlyphs" font-weight="bold">3,103.01</text>
<text x="369.4" y="25" font-size="12" fill="#000" textLength="24" lengthAdjust="spacingAndGlyphs" style="font-family:'Liberation Sans','Noto Sans CJK JP',sans-serif">安値</text>
<text x="397.8" y="24" font-size="14.5" fill="#006400" textLength="66" lengthAdjust="spacingAndGlyphs" font-weight="bold">3,077.11</text>
<text x="468.8" y="25" font-size="12" fill="#000" textLength="24" lengthAdjust="spacingAndGlyphs" style="font-family:'Liberation Sans','Noto Sans CJK JP',sans-serif">終値</text>
<text x="496.8" y="24" font-size="14.5" fill="#000" textLength="66" lengthAdjust="spacingAndGlyphs" font-weight="bold">3,091.91</text>
<path d="M11.0,437.7 L13.3,437.5 L15.7,437.3 L18.0,437.9 L20.3,437.7 L22.3,437.0 L24.4,437.3 L26.4,437.1 L28.7,437.5 L31.0,437.6 L33.3,438.7 L35.6,439.2 L37.9,438.5 L40.2,438.8 L42.5,438.2 L44.8,438.6 L47.1,437.9 L49.4,438.1 L51.7,438.3 L54.0,437.7 L56.1,437.1 L58.3,437.0 L60.4,437.3 L62.6,437.5 L64.7,436.8 L67.2,437.2 L69.8,437.3 L72.3,437.7 L74.6,438.4 L76.9,437.5 L79.2,438.6 L81.5,438.3 L83.6,438.0 L85.8,437.8 L87.9,437.8 L90.0,438.2 L92.0,437.9 L94.0,438.5 L96.0,437.7 L98.0,438.1 L100.0,438.0 L102.0,438.1 L104.0,437.6 L106.0,437.8 L108.0,437.1 L110.0,437.0 L112.0,437.4 L114.3,436.6 L116.7,436.5 L118.8,437.2 L120.8,437.4 L122.9,438.0 L125.4,437.4 L128.0,437.3 L130.5,436.8 L132.8,436.7 L135.1,436.6 L137.4,437.2 L139.7,436.8 L142.0,436.8 L144.3,436.0 L146.6,436.2 L148.9,435.9 L151.2,435.8 L153.4,436.1 L155.7,435.7 L158.0,435.3 L160.3,434.6 L162.7,435.1 L165.0,433.6 L167.3,433.7 L169.6,433.3 L171.9,433.4 L174.2,432.4 L176.5,432.5 L178.0,431.3 L180.3,432.3 L182.6,433.4 L184.9,432.8 L187.2,433.5 L189.5,433.5 L191.8,433.1 L194.8,432.2 L197.4,432.7 L200.0,433.1 L202.3,433.4 L204.6,432.6 L206.9,432.9 L209.2,432.5 L211.2,432.2 L213.3,431.8 L215.3,431.3 L217.3,431.6 L219.4,432.5 L221.4,432.5 L223.7,433.2 L226.0,432.8 L228.3,433.1 L230.6,433.1 L233.7,431.6 L235.7,431.8 L237.8,433.2 L239.8,433.7 L242.1,433.6 L244.4,433.7 L246.7,433.2 L249.0,432.5 L251.1,432.1 L253.1,432.2 L255.2,432.4 L257.2,431.5 L259.2,432.0 L261.3,431.9 L263.3,431.6 L265.4,431.6 L267.4,431.7 L269.4,432.6 L271.5,432.0 L273.5,432.5 L276.6,430.4 L278.9,429.8 L281.2,429.8 L283.5,430.1 L285.8,429.4 L288.1,428.7 L290.4,428.9 L292.7,428.8 L295.0,428.5 L297.3,428.7 L299.6,428.4 L301.8,428.3 L304.1,427.6 L306.4,427.0 L308.7,426.9 L311.0,426.5 L313.3,426.4 L315.6,427.3 L317.9,427.3 L320.2,427.1 L322.5,425.8 L324.8,426.3 L327.1,427.6 L329.7,427.0 L332.2,426.9 L334.8,427.0 L337.1,426.5 L339.4,426.7 L341.7,426.7 L344.0,426.4 L346.3,425.9 L348.6,425.4 L350.8,425.6 L353.1,425.5 L355.4,425.4 L357.7,425.7 L360.0,426.3 L362.3,425.8 L364.6,425.6 L366.9,425.0 L369.2,424.7 L371.5,424.2 L373.5,424.4 L375.6,423.7 L377.6,424.2 L379.9,425.8 L382.2,426.4 L384.7,433.1 L386.8,429.4 L388.9,429.3 L390.9,429.0 L393.0,428.2 L395.1,428.5 L397.1,427.9 L399.2,427.9 L401.2,428.5 L403.3,428.9 L405.3,430.1 L407.6,429.6 L409.9,428.3 L412.2,427.7 L414.5,427.6 L416.6,427.4 L418.6,427.4 L420.6,427.7 L422.7,427.5 L424.8,427.5 L426.8,428.2 L428.8,427.7 L430.9,427.5 L432.9,427.7 L434.9,427.2 L437.0,428.1 L439.0,427.6 L441.1,427.5 L443.3,426.7 L445.4,426.6 L447.6,426.5 L449.7,426.4 L451.3,427.6 L453.4,427.3 L455.6,426.9 L457.7,427.7 L459.9,427.7 L462.0,427.0 L464.3,427.1 L466.6,427.3 L468.6,427.2 L470.7,426.7 L472.7,426.7 L474.7,426.9 L476.8,426.8 L478.8,427.0 L481.4,427.6 L484.0,427.5 L484.0,448 L11.0,448 Z" fill="#ececec"/>
<path d="M11.0,437.7 L13.3,437.5 L15.7,437.3 L18.0,437.9 L20.3,437.7 L22.3,437.0 L24.4,437.3 L26.4,437.1 L28.7,437.5 L31.0,437.6 L33.3,438.7 L35.6,439.2 L37.9,438.5 L40.2,438.8 L42.5,438.2 L44.8,438.6 L47.1,437.9 L49.4,438.1 L51.7,438.3 L54.0,437.7 L56.1,437.1 L58.3,437.0 L60.4,437.3 L62.6,437.5 L64.7,436.8 L67.2,437.2 L69.8,437.3 L72.3,437.7 L74.6,438.4 L76.9,437.5 L79.2,438.6 L81.5,438.3 L83.6,438.0 L85.8,437.8 L87.9,437.8 L90.0,438.2 L92.0,437.9 L94.0,438.5 L96.0,437.7 L98.0,438.1 L100.0,438.0 L102.0,438.1 L104.0,437.6 L106.0,437.8 L108.0,437.1 L110.0,437.0 L112.0,437.4 L114.3,436.6 L116.7,436.5 L118.8,437.2 L120.8,437.4 L122.9,438.0 L125.4,437.4 L128.0,437.3 L130.5,436.8 L132.8,436.7 L135.1,436.6 L137.4,437.2 L139.7,436.8 L142.0,436.8 L144.3,436.0 L146.6,436.2 L148.9,435.9 L151.2,435.8 L153.4,436.1 L155.7,435.7 L158.0,435.3 L160.3,434.6 L162.7,435.1 L165.0,433.6 L167.3,433.7 L169.6,433.3 L171.9,433.4 L174.2,432.4 L176.5,432.5 L178.0,431.3 L180.3,432.3 L182.6,433.4 L184.9,432.8 L187.2,433.5 L189.5,433.5 L191.8,433.1 L194.8,432.2 L197.4,432.7 L200.0,433.1 L202.3,433.4 L204.6,432.6 L206.9,432.9 L209.2,432.5 L211.2,432.2 L213.3,431.8 L215.3,431.3 L217.3,431.6 L219.4,432.5 L221.4,432.5 L223.7,433.2 L226.0,432.8 L228.3,433.1 L230.6,433.1 L233.7,431.6 L235.7,431.8 L237.8,433.2 L239.8,433.7 L242.1,433.6 L244.4,433.7 L246.7,433.2 L249.0,432.5 L251.1,432.1 L253.1,432.2 L255.2,432.4 L257.2,431.5 L259.2,432.0 L261.3,431.9 L263.3,431.6 L265.4,431.6 L267.4,431.7 L269.4,432.6 L271.5,432.0 L273.5,432.5 L276.6,430.4 L278.9,429.8 L281.2,429.8 L283.5,430.1 L285.8,429.4 L288.1,428.7 L290.4,428.9 L292.7,428.8 L295.0,428.5 L297.3,428.7 L299.6,428.4 L301.8,428.3 L304.1,427.6 L306.4,427.0 L308.7,426.9 L311.0,426.5 L313.3,426.4 L315.6,427.3 L317.9,427.3 L320.2,427.1 L322.5,425.8 L324.8,426.3 L327.1,427.6 L329.7,427.0 L332.2,426.9 L334.8,427.0 L337.1,426.5 L339.4,426.7 L341.7,426.7 L344.0,426.4 L346.3,425.9 L348.6,425.4 L350.8,425.6 L353.1,425.5 L355.4,425.4 L357.7,425.7 L360.0,426.3 L362.3,425.8 L364.6,425.6 L366.9,425.0 L369.2,424.7 L371.5,424.2 L373.5,424.4 L375.6,423.7 L377.6,424.2 L379.9,425.8 L382.2,426.4 L384.7,433.1 L386.8,429.4 L388.9,429.3 L390.9,429.0 L393.0,428.2 L395.1,428.5 L397.1,427.9 L399.2,427.9 L401.2,428.5 L403.3,428.9 L405.3,430.1 L407.6,429.6 L409.9,428.3 L412.2,427.7 L414.5,427.6 L416.6,427.4 L418.6,427.4 L420.6,427.7 L422.7,427.5 L424.8,427.5 L426.8,428.2 L428.8,427.7 L430.9,427.5 L432.9,427.7 L434.9,427.2 L437.0,428.1 L439.0,427.6 L441.1,427.5 L443.3,426.7 L445.4,426.6 L447.6,426.5 L449.7,426.4 L451.3,427.6 L453.4,427.3 L455.6,426.9 L457.7,427.7 L459.9,427.7 L462.0,427.0 L464.3,427.1 L466.6,427.3 L468.6,427.2 L470.7,426.7 L472.7,426.7 L474.7,426.9 L476.8,426.8 L478.8,427.0 L481.4,427.6 L484.0,427.5" fill="none" stroke="#8c8c8c" stroke-width="1.35" stroke-linejoin="round"/>
<path d="M484.0,427.6 L491.7,428.0 L496.3,428.5 L499.3,426.5 L505.4,426.5 L508.5,428.8 L510.8,432.6 L512.3,430.3 L514.6,430.6 L516.9,429.5 L520.8,429.1 L524.6,428.0 L529.2,426.5 L531.5,427.6 L534.5,426.8 L542.2,426.8 L548.3,426.8 L552.9,425.7 L557.5,425.4 L559.0,426.5 L560.6,426.9 L563.6,425.7 L565.9,424.5 L567.5,423.4 L569.0,425.0 L572.0,425.0 L579.0,424.6 L579.0,448 L484.0,448 Z" fill="#bfcdfa"/>
<path d="M484.0,427.6 L491.7,428.0 L496.3,428.5 L499.3,426.5 L505.4,426.5 L508.5,428.8 L510.8,432.6 L512.3,430.3 L514.6,430.6 L516.9,429.5 L520.8,429.1 L524.6,428.0 L529.2,426.5 L531.5,427.6 L534.5,426.8 L542.2,426.8 L548.3,426.8 L552.9,425.7 L557.5,425.4 L559.0,426.5 L560.6,426.9 L563.6,425.7 L565.9,424.5 L567.5,423.4 L569.0,425.0 L572.0,425.0 L579.0,424.6" fill="none" stroke="#7070c0" stroke-width="1.35" stroke-linejoin="round"/>
<rect x="83.3" y="436.5" width="1.8" height="11.5" fill="#fff"/>
<rect x="85.1" y="435.4" width="12.4" height="10.8" fill="#f1f1f1"/>
<text x="84.7" y="444.1" font-size="10.2" fill="#1a1a1a" textLength="12" lengthAdjust="spacingAndGlyphs">23</text>
<rect x="273.3" y="430.8" width="1.8" height="17.19999999999999" fill="#fff"/>
<rect x="275.1" y="435.4" width="12.4" height="10.8" fill="#f1f1f1"/>
<text x="274.7" y="444.1" font-size="10.2" fill="#1a1a1a" textLength="12" lengthAdjust="spacingAndGlyphs">24</text>
<rect x="462.3" y="426" width="1.8" height="22" fill="#fff"/>
<rect x="464.1" y="435.4" width="12.4" height="10.8" fill="#f1f1f1"/>
<text x="463.7" y="444.1" font-size="10.2" fill="#1a1a1a" textLength="12" lengthAdjust="spacingAndGlyphs">25</text>
<defs><linearGradient id="gt" x1="0" y1="0" x2="0" y2="1"><stop offset="0" stop-color="#4a4a4a"/><stop offset="1" stop-color="#d0d0d0"/></linearGradient><linearGradient id="gth" x1="0" y1="0" x2="0" y2="1"><stop offset="0" stop-color="#ffffff"/><stop offset="1" stop-color="#b8b8b8"/></linearGradient><linearGradient id="gh" x1="0" y1="0" x2="1" y2="0"><stop offset="0" stop-color="#f4f4f4"/><stop offset="0.45" stop-color="#e0e0e0"/><stop offset="1" stop-color="#8c8c8c"/></linearGradient></defs>
<g shape-rendering="crispEdges">
<rect x="11" y="449" width="568" height="10" fill="url(#gt)"/>
<rect x="491" y="449" width="1" height="10" fill="#000"/>
<rect x="572" y="449" width="1" height="10" fill="#000"/>
<rect x="492" y="449" width="80" height="10" fill="url(#gth)"/>
<rect x="579" y="449" width="1" height="10" fill="#000"/>
<rect x="484" y="411" width="1" height="37" fill="#00a0e0"/>
<rect x="579" y="411" width="1" height="37" fill="#00a0e0"/>
<rect x="478" y="415" width="14" height="30" fill="#222"/>
<rect x="479" y="416" width="12" height="28" fill="url(#gh)"/>
<rect x="572" y="415" width="14" height="30" fill="#222"/>
<rect x="573" y="416" width="12" height="28" fill="url(#gh)"/>
</g>
<path d="M482.6,429 L487.4,424.6 L487.4,433.4 Z" fill="#000"/>
<path d="M581.6,429 L576.8,424.6 L576.8,433.4 Z" fill="#000"/>
</svg>
</body></html>
